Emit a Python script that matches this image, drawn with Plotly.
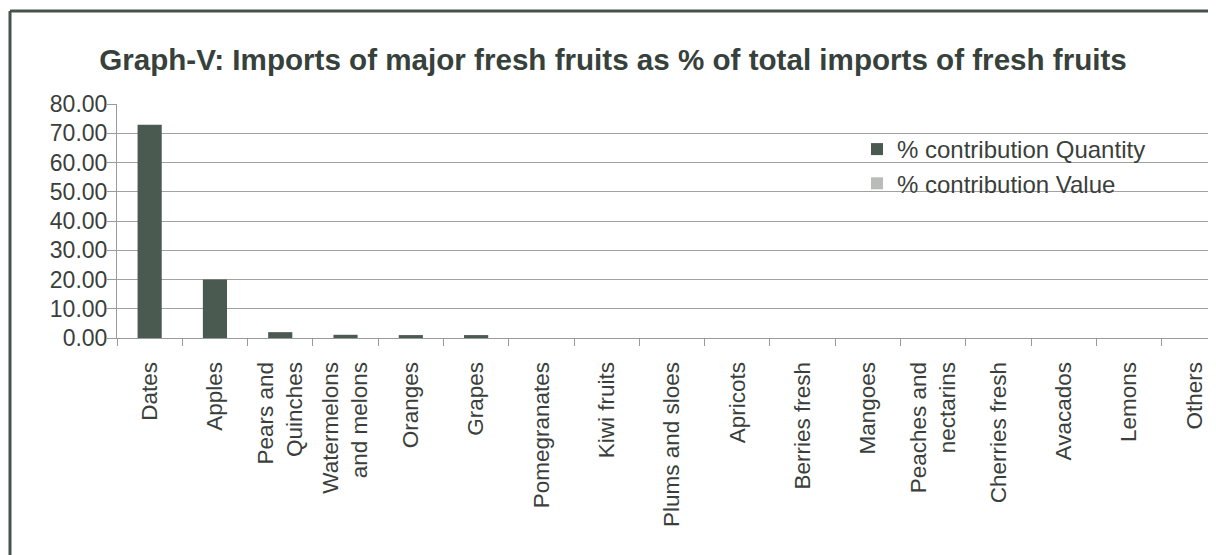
import plotly.graph_objects as go

categories = ["Dates", "Apples", "Pears and<br>Quinches", "Watermelons<br>and melons", "Oranges",
              "Grapes", "Pomegranates", "Kiwi fruits", "Plums and sloes", "Apricots",
              "Berries fresh", "Mangoes", "Peaches and<br>nectarins", "Cherries fresh",
              "Avacados", "Lemons", "Others"]
qty_pct = [72.9, 20.0, 2.0, 1.1, 1.0, 1.0, 0, 0, 0, 0, 0, 0, 0, 0, 0, 0, 0]
value_pct = [0] * len(categories)
y_ticks = [0, 10, 20, 30, 40, 50, 60, 70, 80]

# the page body has an 8px margin; work in page pixels and shift
OFF = 8
PAGE_W, PAGE_H = 1216, 555
W, H = PAGE_W - OFF, PAGE_H - OFF
PL, PR, PT, PB = 117, 1216, 104, 338   # plot area in page pixels
L, R, T, B = PL - OFF, (PAGE_W) - PR, PT - OFF, PAGE_H - PB
pw, ph = PR - PL, PB - PT

def px(x):
    return (x - PL) / pw

def py(y):
    return (PB - y) / ph

fig = go.Figure()
fig.add_trace(go.Bar(x=categories, y=qty_pct, name="% contribution Quantity",
                     marker=dict(color="#4b5a51", line=dict(width=0)), width=0.37))
fig.add_trace(go.Bar(x=categories, y=value_pct, name="% contribution Value",
                     marker=dict(color="#b9bdb9", line=dict(width=0)), width=0.37))

font_main = "Liberation Sans, Arial, sans-serif"
fig.update_layout(
    width=W, height=H,
    margin=dict(l=L, r=R, t=T, b=B),
    barmode="overlay",
    paper_bgcolor="white", plot_bgcolor="white",
    title=dict(text="<b>Graph-V: Imports of major fresh fruits as % of total imports of fresh fruits</b>",
               x=(613 - OFF) / W, xanchor="center", y=1 - (60 - OFF) / H, yanchor="middle",
               font=dict(family=font_main, size=29.6, color="#37413c")),
    legend=dict(x=px(857), y=py(127), xanchor="left", yanchor="top",
                font=dict(family=font_main, size=24, color="#3a3f3c"),
                bgcolor="rgba(0,0,0,0)", itemsizing="constant"),
    font=dict(family=font_main, color="#3a3f3c"),
)
fig.update_xaxes(range=[-0.5, len(categories) - 0.5 - 11 / 65.3], tickangle=-90,
                 tickson="boundaries", ticks="outside", ticklen=7, tickcolor="#9a9a9a",
                 ticklabelstandoff=14,
                 showline=True, linecolor="#9a9a9a", linewidth=1, showgrid=False,
                 tickfont=dict(family=font_main, size=22.5, color="#3a3f3c"))
fig.update_yaxes(range=[0, 80], tickvals=y_ticks, tickformat=".2f", ticks="outside",
                 ticklen=9, tickcolor="#9a9a9a", showline=True, linecolor="#9a9a9a",
                 ticklabelstandoff=-5,
                 gridcolor="#a2a2a2", gridwidth=1, zeroline=False,
                 tickfont=dict(family=font_main, size=23, color="#3a3f3c"))

# chart frame
fig.add_shape(type="line", xref="paper", yref="paper", x0=px(10), x1=px(10), y0=py(11), y1=py(560),
              line=dict(color="#46524b", width=3))
fig.add_shape(type="line", xref="paper", yref="paper", x0=px(10), x1=px(1215), y0=py(11), y1=py(11),
              line=dict(color="#46524b", width=3))
fig.add_shape(type="line", xref="paper", yref="paper", x0=px(1214), x1=px(1214), y0=py(11), y1=py(560),
              line=dict(color="#c8cbc8", width=1))

fig.write_html("out.html")
